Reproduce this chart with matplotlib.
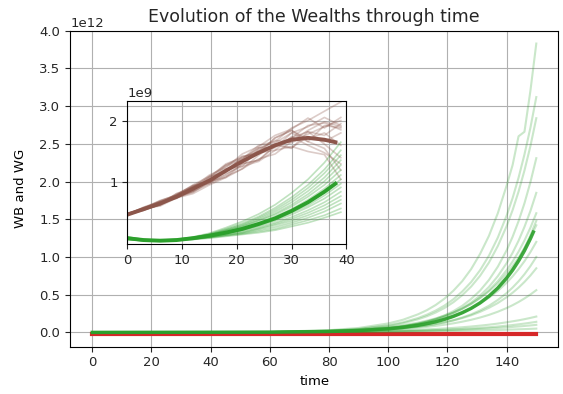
import numpy as np
import matplotlib
matplotlib.use("Agg")
from matplotlib import pyplot as plt

# ---- main panel data (WG in units of 1e12) ----
t_main = [0, 60, 80, 90, 100, 105, 110, 113, 116, 119, 122, 125, 128, 131, 134, 137, 140, 142, 144, 146, 148, 150]
t_main_avg = [0, 60, 80, 90, 100, 105, 110, 113, 116, 119, 122, 125, 128, 131, 134, 137, 140, 142, 144, 146, 148, 149]

wg_main = [
    [0.0001, 0.0072, 0.029, 0.059, 0.119, 0.168, 0.239, 0.294, 0.363, 0.448, 0.553, 0.68, 0.84, 1.04, 1.28, 1.58, 1.95, 2.22, 2.60, 2.66, 3.20, 3.83],
    [0.0001, 0.0057, 0.023, 0.047, 0.094, 0.134, 0.19, 0.234, 0.289, 0.356, 0.44, 0.543, 0.668, 0.824, 1.017, 1.257, 1.551, 1.782, 2.05, 2.359, 2.711, 3.12],
    [0.0001, 0.0052, 0.0212, 0.0426, 0.0858, 0.122, 0.173, 0.213, 0.263, 0.324, 0.40, 0.494, 0.608, 0.75, 0.926, 1.145, 1.411, 1.622, 1.866, 2.147, 2.468, 2.84],
    [0.0001, 0.0028, 0.012, 0.0256, 0.0543, 0.079, 0.115, 0.144, 0.18, 0.226, 0.282, 0.353, 0.444, 0.554, 0.695, 0.871, 1.09, 1.268, 1.474, 1.712, 1.989, 2.31],
    [0.0001, 0.0034, 0.0138, 0.0278, 0.0559, 0.0794, 0.112, 0.139, 0.171, 0.211, 0.261, 0.322, 0.396, 0.488, 0.603, 0.746, 0.919, 1.056, 1.215, 1.399, 1.608, 1.85],
    [0.0001, 0.0046, 0.0167, 0.0319, 0.0613, 0.0848, 0.117, 0.143, 0.174, 0.21, 0.256, 0.311, 0.378, 0.46, 0.558, 0.679, 0.825, 0.94, 1.07, 1.218, 1.387, 1.58],
    [0.0001, 0.0027, 0.011, 0.0222, 0.0447, 0.0635, 0.09, 0.111, 0.137, 0.169, 0.209, 0.258, 0.317, 0.391, 0.482, 0.596, 0.736, 0.845, 0.972, 1.119, 1.286, 1.48],
    [0.0001, 0.0064, 0.0213, 0.0388, 0.0707, 0.0954, 0.129, 0.155, 0.185, 0.222, 0.264, 0.317, 0.379, 0.454, 0.544, 0.65, 0.78, 0.879, 0.991, 1.118, 1.26, 1.42],
    [0.0001, 0.0054, 0.018, 0.0328, 0.0598, 0.0806, 0.109, 0.131, 0.156, 0.187, 0.223, 0.268, 0.32, 0.384, 0.46, 0.55, 0.659, 0.743, 0.838, 0.944, 1.064, 1.20],
    [0.0001, 0.0029, 0.0106, 0.0202, 0.0388, 0.0537, 0.0743, 0.0903, 0.11, 0.133, 0.162, 0.197, 0.239, 0.291, 0.353, 0.43, 0.522, 0.595, 0.677, 0.771, 0.878, 1.00],
    [0.0001, 0.0038, 0.0128, 0.0232, 0.0423, 0.0571, 0.0771, 0.0927, 0.111, 0.133, 0.158, 0.19, 0.227, 0.272, 0.326, 0.389, 0.467, 0.526, 0.593, 0.669, 0.754, 0.85],
    [0.0001, 0.004, 0.0119, 0.0207, 0.0358, 0.0472, 0.0622, 0.0734, 0.0862, 0.102, 0.12, 0.142, 0.167, 0.197, 0.232, 0.274, 0.323, 0.361, 0.403, 0.45, 0.502, 0.56],
    [0.0001, 0.0037, 0.009, 0.0141, 0.0221, 0.0277, 0.0347, 0.0397, 0.0456, 0.0521, 0.0596, 0.0683, 0.0781, 0.0893, 0.102, 0.117, 0.134, 0.147, 0.16, 0.175, 0.192, 0.21],
    [0.0001, 0.0024, 0.006, 0.0094, 0.0147, 0.0185, 0.0231, 0.0265, 0.0304, 0.0347, 0.0398, 0.0455, 0.0521, 0.0595, 0.0682, 0.078, 0.0893, 0.0977, 0.107, 0.117, 0.128, 0.14],
    [0.0001, 0.0027, 0.0061, 0.0091, 0.0135, 0.0165, 0.0202, 0.0228, 0.0257, 0.0289, 0.0326, 0.0368, 0.0415, 0.0468, 0.0527, 0.0595, 0.067, 0.0726, 0.0787, 0.0852, 0.0923, 0.10],
    [0.0001, 0.0021, 0.0043, 0.0061, 0.0087, 0.0104, 0.0124, 0.0137, 0.0152, 0.0169, 0.0188, 0.0209, 0.0232, 0.0257, 0.0286, 0.0317, 0.0353, 0.0378, 0.0406, 0.0435, 0.0466, 0.05],
]
wg_main_mean = [0.0001, 0.0032, 0.0122, 0.0241, 0.0475, 0.0668, 0.0938, 0.115, 0.141, 0.173, 0.213, 0.261, 0.319, 0.391, 0.48, 0.588, 0.721, 0.826, 0.947, 1.084, 1.242, 1.33]
red_t = [0, 150]
red_vals = [-0.015, -0.015]

# ---- inset data (units of 1e9) ----
t_in = [0, 3, 6, 9, 12, 15, 18, 21, 24, 27, 30, 33, 36, 39]
t_in_avg = [0, 3, 6, 9, 12, 15, 18, 21, 24, 27, 30, 33, 36, 38]

wg_in = [
    [0.11, 0.07, 0.06, 0.08, 0.12, 0.18, 0.27, 0.37, 0.49, 0.64, 0.83, 1.05, 1.32, 1.65],
    [0.09, 0.07, 0.06, 0.08, 0.11, 0.17, 0.25, 0.34, 0.45, 0.59, 0.76, 0.96, 1.21, 1.52],
    [0.12, 0.08, 0.06, 0.07, 0.11, 0.16, 0.24, 0.32, 0.43, 0.56, 0.72, 0.91, 1.15, 1.44],
    [0.08, 0.06, 0.06, 0.07, 0.11, 0.16, 0.23, 0.31, 0.41, 0.53, 0.68, 0.86, 1.08, 1.36],
    [0.10, 0.07, 0.06, 0.07, 0.10, 0.15, 0.22, 0.29, 0.39, 0.50, 0.64, 0.81, 1.02, 1.28],
    [0.11, 0.07, 0.07, 0.08, 0.11, 0.15, 0.22, 0.29, 0.38, 0.48, 0.61, 0.77, 0.96, 1.20],
    [0.09, 0.06, 0.06, 0.07, 0.10, 0.14, 0.20, 0.27, 0.35, 0.45, 0.57, 0.72, 0.90, 1.12],
    [0.10, 0.07, 0.06, 0.07, 0.10, 0.14, 0.19, 0.26, 0.33, 0.42, 0.54, 0.68, 0.84, 1.05],
    [0.08, 0.06, 0.06, 0.07, 0.10, 0.13, 0.18, 0.24, 0.31, 0.40, 0.51, 0.63, 0.79, 0.98],
    [0.12, 0.08, 0.07, 0.08, 0.10, 0.13, 0.18, 0.23, 0.30, 0.38, 0.48, 0.60, 0.74, 0.92],
    [0.09, 0.07, 0.06, 0.07, 0.09, 0.13, 0.17, 0.22, 0.28, 0.35, 0.44, 0.55, 0.68, 0.85],
    [0.10, 0.07, 0.06, 0.07, 0.09, 0.12, 0.16, 0.20, 0.26, 0.33, 0.41, 0.51, 0.63, 0.78],
    [0.08, 0.06, 0.06, 0.07, 0.09, 0.12, 0.15, 0.19, 0.25, 0.31, 0.38, 0.47, 0.58, 0.72],
    [0.11, 0.07, 0.06, 0.07, 0.09, 0.11, 0.15, 0.18, 0.23, 0.28, 0.35, 0.43, 0.53, 0.66],
    [0.09, 0.07, 0.06, 0.07, 0.08, 0.11, 0.14, 0.17, 0.21, 0.25, 0.32, 0.39, 0.47, 0.58],
    [0.10, 0.07, 0.07, 0.07, 0.08, 0.10, 0.13, 0.16, 0.19, 0.23, 0.29, 0.35, 0.43, 0.52],
]
wg_in_mean = [0.10, 0.07, 0.06, 0.07, 0.10, 0.14, 0.19, 0.25, 0.33, 0.42, 0.54, 0.68, 0.85, 0.98]

wb_in = [
    [0.48, 0.60, 0.70, 0.80, 0.96, 1.10, 1.28, 1.38, 1.60, 1.66, 1.88, 2.00, 2.15, 2.30],
    [0.50, 0.56, 0.64, 0.76, 0.84, 1.02, 1.08, 1.30, 1.36, 1.60, 1.55, 1.82, 1.76, 1.95],
    [0.47, 0.58, 0.70, 0.80, 0.95, 1.02, 1.26, 1.36, 1.56, 1.56, 1.80, 1.66, 1.92, 1.88],
    [0.49, 0.59, 0.63, 0.78, 0.85, 1.00, 1.12, 1.30, 1.36, 1.58, 1.72, 1.82, 1.62, 1.40],
    [0.48, 0.55, 0.68, 0.74, 0.94, 1.08, 1.30, 1.40, 1.50, 1.72, 1.84, 1.66, 1.55, 1.20],
    [0.50, 0.58, 0.62, 0.75, 0.82, 0.96, 1.08, 1.22, 1.38, 1.46, 1.66, 1.84, 1.98, 1.90],
    [0.47, 0.58, 0.71, 0.79, 0.92, 1.12, 1.24, 1.46, 1.58, 1.76, 1.86, 2.04, 1.88, 2.05],
    [0.49, 0.55, 0.65, 0.82, 0.93, 1.00, 1.14, 1.26, 1.34, 1.52, 1.58, 1.50, 1.45, 1.05],
    [0.48, 0.60, 0.68, 0.76, 0.86, 1.08, 1.20, 1.38, 1.56, 1.64, 1.80, 1.90, 2.05, 1.92],
    [0.50, 0.56, 0.64, 0.80, 0.95, 0.98, 1.10, 1.22, 1.44, 1.62, 1.56, 1.74, 1.66, 1.80],
    [0.47, 0.59, 0.69, 0.77, 0.87, 1.06, 1.28, 1.42, 1.46, 1.72, 1.84, 1.70, 1.80, 1.60],
    [0.49, 0.56, 0.67, 0.78, 0.93, 1.05, 1.18, 1.34, 1.52, 1.60, 1.72, 1.92, 1.96, 1.85],
    [0.48, 0.58, 0.65, 0.82, 0.88, 1.10, 1.16, 1.42, 1.48, 1.52, 1.74, 1.60, 1.48, 1.30],
    [0.50, 0.57, 0.69, 0.75, 0.86, 0.98, 1.22, 1.26, 1.54, 1.68, 1.64, 1.78, 1.90, 2.00],
]
wb_in_mean = [0.48, 0.57, 0.66, 0.77, 0.90, 1.03, 1.19, 1.34, 1.48, 1.60, 1.69, 1.72, 1.69, 1.65]

plt.rcParams['font.size'] = 9.5
plt.rcParams['text.color'] = '#262626'
plt.rcParams['xtick.color'] = '#262626'
plt.rcParams['ytick.color'] = '#262626'

fig = plt.figure(figsize=(5.63, 3.94), dpi=100)
ax = fig.add_axes([0.1245, 0.12, 0.8675, 0.802])

ax.plot(red_t, np.array(red_vals) * 1e12, color='tab:red', lw=3)
for run in wg_main:
    ax.plot(t_main, np.array(run) * 1e12, color='tab:green', alpha=0.25, lw=1.5)
ax.plot(t_main_avg, np.array(wg_main_mean) * 1e12, color='tab:green', lw=2.5, alpha=0.9)

ax.set_xlim(-7.5, 157.5)
ax.set_ylim(-0.19e12, 4.0e12)
ax.set_xticks([0, 20, 40, 60, 80, 100, 120, 140])
ax.set_yticks(np.arange(0, 4.01, 0.5) * 1e12)
ax.grid(True, color='#b0b0b0', lw=0.8)
ax.set_title("Evolution of the Wealths through time", fontsize=12.5)
ax.set_xlabel("time")
ax.set_ylabel("WB and WG", labelpad=9)

# inset
ins = fig.add_axes([0.2261, 0.3797, 0.389, 0.3647], facecolor='none')
for run in wb_in:
    ins.plot(t_in, np.array(run) * 1e9, color='tab:brown', alpha=0.3, lw=1.2)
for run in wg_in:
    ins.plot(t_in, np.array(run) * 1e9, color='tab:green', alpha=0.3, lw=1.2)
ins.plot(t_in_avg, np.array(wb_in_mean) * 1e9, color='tab:brown', lw=2.8)
ins.plot(t_in_avg, np.array(wg_in_mean) * 1e9, color='tab:green', lw=2.8)
ins.set_xlim(0, 40)
ins.set_ylim(0.0, 2.32e9)
ins.set_yticks([1e9, 2e9])
ins.set_xticks([0, 10, 20, 30, 40])
ins.grid(True, color='#b0b0b0', lw=0.8)

fig.savefig("out.png", dpi=100)
